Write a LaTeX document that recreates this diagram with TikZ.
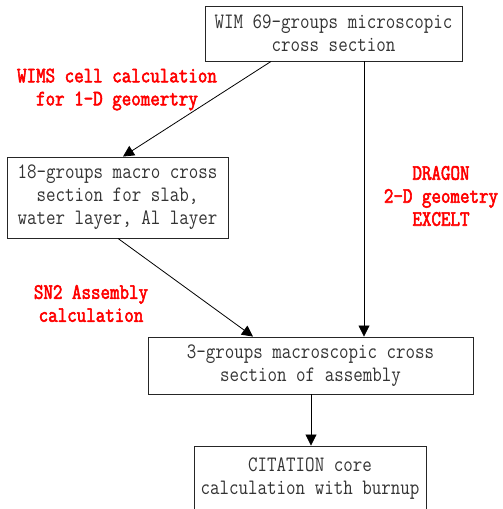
\documentclass[tikz,border=0pt]{standalone}
\usepackage{fontspec}
\usetikzlibrary{arrows.meta}
\setmonofont{Latin Modern Mono}[FakeStretch=0.84, BoldFont={Latin Modern Mono}, BoldFeatures={FakeBold=2.5}]
\tikzset{
  box/.style={draw=black!85, line width=0.9pt, rectangle, inner sep=0pt, align=center,
    font=\ttfamily\fontsize{22}{23}\selectfont, text=black!80},
  lbl/.style={align=center, font=\ttfamily\bfseries\fontsize{22}{23}\selectfont, text=red},
  arr/.style={draw=black, line width=0.8pt, -{Triangle[length=11pt,width=11pt]}}
}
\begin{document}
\begin{tikzpicture}[x=1pt,y=-1pt]
\useasboundingbox (0,0) rectangle (503,509);
\clip (0,0) rectangle (503,509);
\node[box, minimum width=257pt, minimum height=55pt] (b1) at (333.5,33.5) {WIM 69-groups microscopic\\cross section};
\node[box, minimum width=221pt, minimum height=81pt] (b2) at (117.5,197.5) {18-groups macro cross\\section for slab,\\water layer, Al layer};
\node[box, minimum width=325pt, minimum height=57pt] (b3) at (310.5,365.5) {3-groups macroscopic cross\\section of assembly};
\node[box, minimum width=232pt, minimum height=65pt] (b4) at (310,478.5) {CITATION core\\calculation with burnup};
\node[lbl] (l1) at (117,89.5) {WIMS cell calculation\\for 1-D geomertry};
\node[lbl] (l2) at (441,196) {DRAGON\\2-D geometry\\EXCELT};
\node[lbl] (l3) at (91,303.5) {SN2 Assembly\\calculation};
\draw[arr] (b1.south -| 271,0) -- (b2.north -| 123,0);
\draw[arr] (b1.south -| 364,0) -- (b3.north -| 364,0);
\draw[arr] (b2.south -| 118,0) -- (b3.north -| 253,0);
\draw[arr] (b3.south -| 311,0) -- (b4.north -| 311,0);
\end{tikzpicture}
\end{document}
